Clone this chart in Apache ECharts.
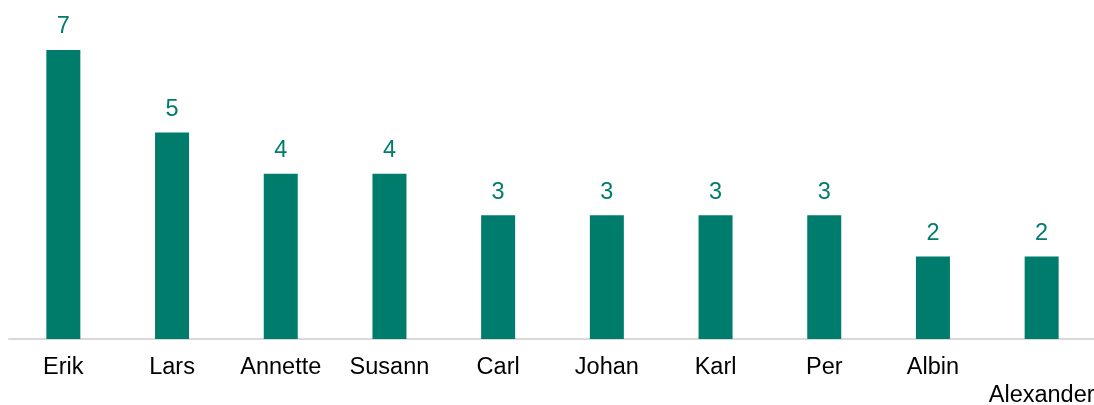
<!DOCTYPE html>
<html>
<head>
<meta charset="utf-8">
<script src="https://cdn.jsdelivr.net/npm/echarts@6/dist/echarts.min.js"></script>
<style>
  html, body { margin: 0; padding: 0; background: #fff; }
  #nameChart { width: 1094px; height: 405px; }
</style>
</head>
<body>
<div id="nameChart"></div>
<script>
  var names = ['Erik', 'Lars', 'Annette', 'Susann', 'Carl', 'Johan', 'Karl', 'Per', 'Albin', 'Alexander'];
  var counts = [7, 5, 4, 4, 3, 3, 3, 3, 2, 2];

  var option = {
    animation: false,
    grid: {
      left: 9,
      right: -2,
      top: 50,
      bottom: 66,
      containLabel: false,
      outerBoundsMode: 'none'
    },
    xAxis: {
      type: 'category',
      data: names,
      axisLine: {
        lineStyle: { color: '#d9d9d9', width: 2 }
      },
      axisTick: { show: false },
      axisLabel: {
        interval: 0,
        margin: 15,
        color: '#000',
        fontSize: 23.5,
        fontFamily: 'Liberation Sans, Arial, sans-serif',
        lineHeight: 28,
        // last label sits one row lower, like the staggered labels in the source
        formatter: function (value, idx) {
          return idx === names.length - 1 ? '\n' + value : value;
        }
      }
    },
    yAxis: {
      type: 'value',
      min: 0,
      max: 7,
      show: false,
      splitLine: { show: false }
    },
    series: [{
      type: 'bar',
      data: counts,
      barWidth: 34,
      itemStyle: { color: '#007c6d' },
      label: {
        show: true,
        position: 'top',
        distance: 11,
        color: '#007c6d',
        fontSize: 23.5,
        fontFamily: 'Liberation Sans, Arial, sans-serif'
      }
    }]
  };

  var nameChart = echarts.init(document.getElementById('nameChart'));
  nameChart.setOption(option);
</script>
</body>
</html>
